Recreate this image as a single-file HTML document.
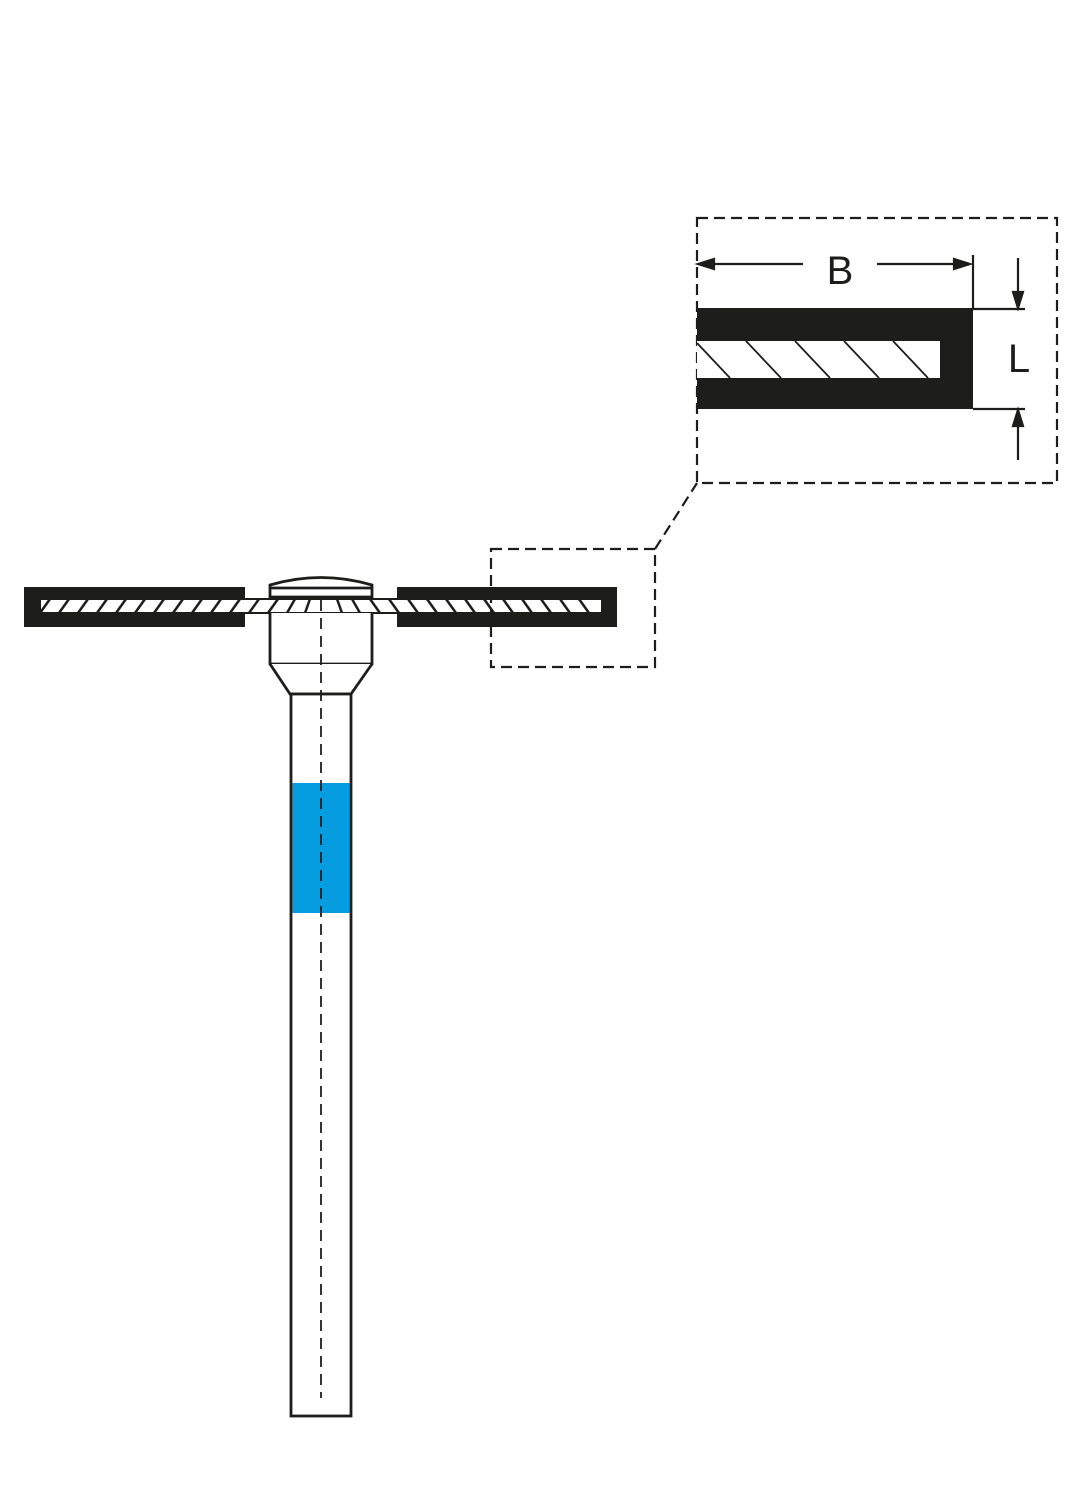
<!DOCTYPE html>
<html><head><meta charset="utf-8"><style>html,body{margin:0;padding:0;background:#fff}svg{display:block}</style></head>
<body>
<svg width="1068" height="1500" viewBox="0 0 1068 1500" xmlns="http://www.w3.org/2000/svg">
<rect width="1068" height="1500" fill="#fff"/>
<!-- disc -->
<rect x="24" y="587" width="221" height="40" fill="#1d1d1b"/>
<rect x="397" y="587" width="220" height="40" fill="#1d1d1b"/>
<rect x="40" y="599" width="562" height="14" fill="#fff" stroke="#1d1d1b" stroke-width="2"/>
<g stroke="#1d1d1b" stroke-width="2.5">
<line x1="40" y1="613" x2="50" y2="599"/>
<line x1="59" y1="613" x2="69" y2="599"/>
<line x1="78" y1="613" x2="88" y2="599"/>
<line x1="97" y1="613" x2="107" y2="599"/>
<line x1="116" y1="613" x2="126" y2="599"/>
<line x1="135" y1="613" x2="145" y2="599"/>
<line x1="154" y1="613" x2="164" y2="599"/>
<line x1="173" y1="613" x2="183" y2="599"/>
<line x1="192" y1="613" x2="202" y2="599"/>
<line x1="211" y1="613" x2="221" y2="599"/>
<line x1="230" y1="613" x2="240" y2="599"/>
<line x1="249" y1="613" x2="259" y2="599"/>
<line x1="268" y1="613" x2="278" y2="599"/>
<line x1="287" y1="613" x2="295" y2="599"/>
<line x1="305" y1="613" x2="310" y2="599"/>
<line x1="337" y1="599" x2="342" y2="613"/>
<line x1="352" y1="599" x2="360" y2="613"/>
<line x1="370" y1="599" x2="380" y2="613"/>
<line x1="389" y1="599" x2="399" y2="613"/>
<line x1="408" y1="599" x2="418" y2="613"/>
<line x1="427" y1="599" x2="437" y2="613"/>
<line x1="446" y1="599" x2="456" y2="613"/>
<line x1="465" y1="599" x2="475" y2="613"/>
<line x1="484" y1="599" x2="494" y2="613"/>
<line x1="503" y1="599" x2="513" y2="613"/>
<line x1="522" y1="599" x2="532" y2="613"/>
<line x1="541" y1="599" x2="551" y2="613"/>
<line x1="560" y1="599" x2="570" y2="613"/>
<line x1="579" y1="599" x2="589" y2="613"/>
</g>
<!-- hub -->
<g fill="#fff" stroke="#1d1d1b" stroke-width="2.8">
<path d="M270,597 L270,585 Q321,570 372,585 L372,597 Z"/>
<line x1="270" y1="588" x2="372" y2="588"/>
<path d="M270,613 L270,664 L372,664 L372,613"/>
<path d="M270,664 L290,694 L351,694 L372,664"/>
<rect x="291" y="694" width="60" height="722"/>
</g>
<rect x="292.5" y="783" width="57" height="130" fill="#069de0"/>
<line x1="321" y1="600" x2="321" y2="1398" stroke="#1d1d1b" stroke-width="1.8" stroke-dasharray="11,7"/>
<!-- dashed boxes -->
<g fill="none" stroke="#1d1d1b" stroke-width="2.2" stroke-dasharray="11,6">
<rect x="491" y="549" width="164" height="118"/>
<line x1="655" y1="549" x2="697" y2="483"/>
<rect x="697" y="218" width="360" height="265"/>
</g>
<!-- detail -->
<rect x="697" y="308" width="276" height="101" fill="#1d1d1b"/>
<rect x="697" y="341" width="243" height="37" fill="#fff"/>
<g stroke="#1d1d1b" stroke-width="1.8">
<line x1="697" y1="343" x2="730" y2="378"/>
<line x1="746" y1="341" x2="781" y2="378"/>
<line x1="795" y1="341" x2="830" y2="378"/>
<line x1="844" y1="341" x2="879" y2="378"/>
<line x1="893" y1="341" x2="928" y2="378"/>
</g>
<g stroke="#1d1d1b" stroke-width="2.2" fill="#1d1d1b">
<line x1="705" y1="264" x2="803" y2="264"/>
<line x1="877" y1="264" x2="962" y2="264"/>
<path d="M698,264 L714,259 L714,269 Z"/>
<path d="M970,264 L954,259 L954,269 Z"/>
<line x1="973" y1="255" x2="973" y2="308"/>
<line x1="973" y1="309" x2="1025" y2="309"/>
<line x1="973" y1="409" x2="1025" y2="409"/>
<line x1="1018" y1="258" x2="1018" y2="296"/>
<path d="M1018,308 L1013,292 L1023,292 Z"/>
<line x1="1018" y1="422" x2="1018" y2="460"/>
<path d="M1018,410 L1013,426 L1023,426 Z"/>
</g>
<text x="840" y="284" font-family="Liberation Sans, sans-serif" font-size="40" text-anchor="middle" fill="#1d1d1b">B</text>
<text x="1019" y="372" font-family="Liberation Sans, sans-serif" font-size="40" text-anchor="middle" fill="#1d1d1b">L</text>
</svg>
</body></html>
